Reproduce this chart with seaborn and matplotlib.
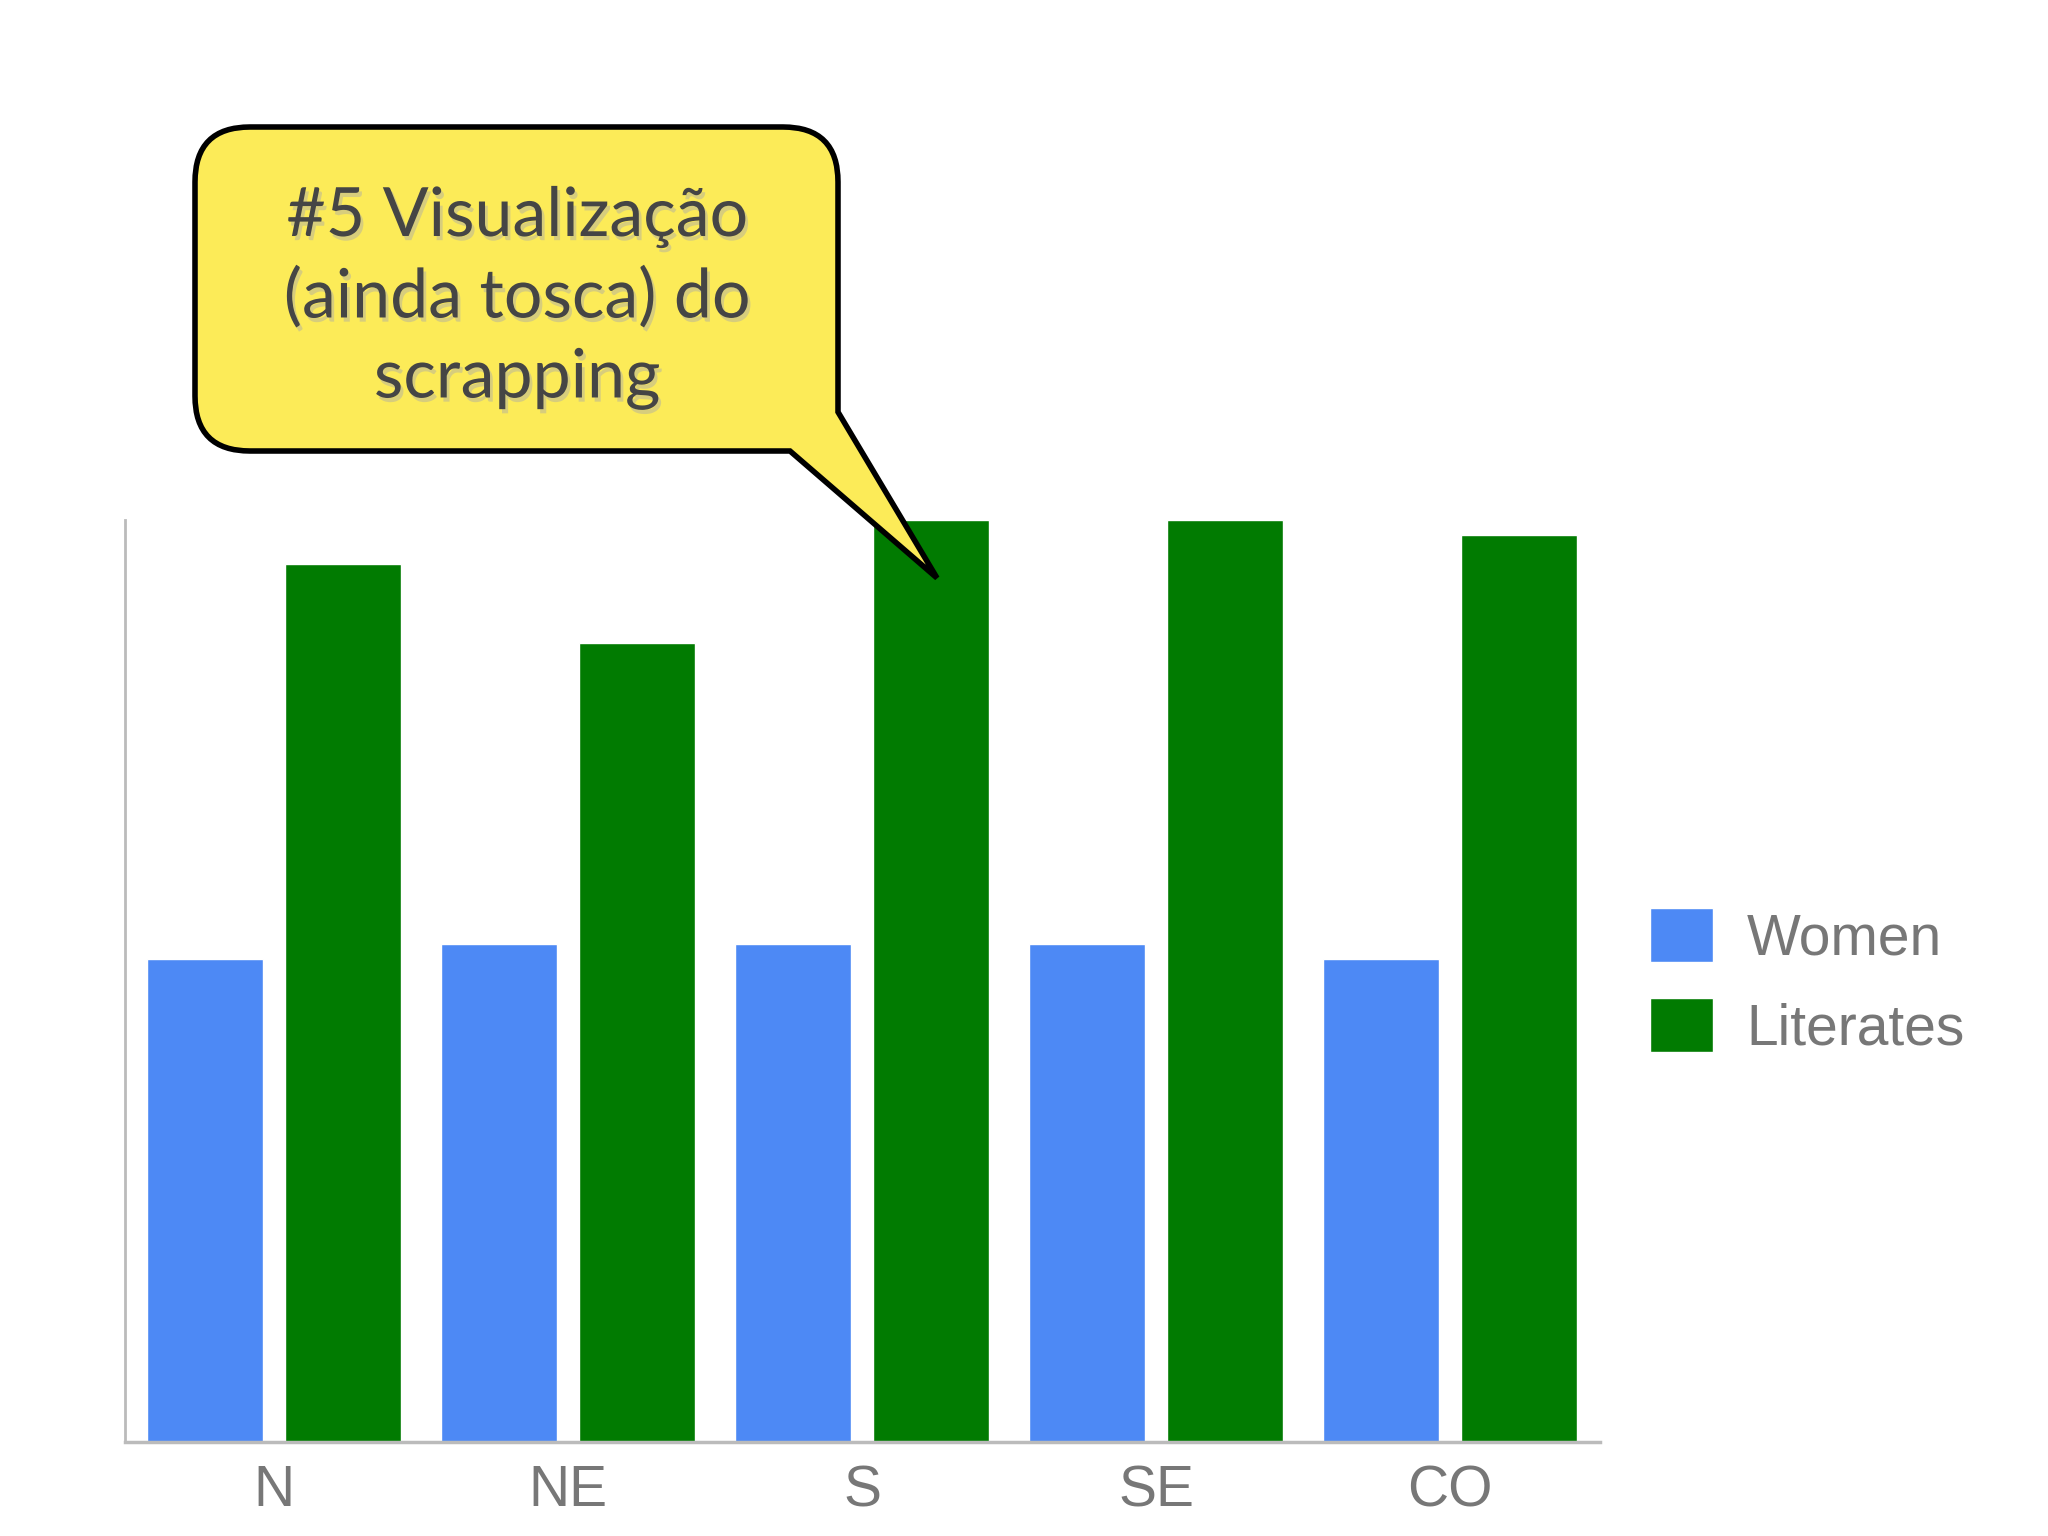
import pandas as pd
import matplotlib
matplotlib.use("Agg")
import matplotlib.pyplot as plt
import matplotlib.patheffects as pe
from matplotlib.path import Path
from matplotlib.patches import PathPatch
from matplotlib.transforms import IdentityTransform
import seaborn as sns

# data (share of population, roughly)
regions = ['N', 'NE', 'S', 'SE', 'CO']
women = [0.49, 0.505, 0.505, 0.505, 0.49]
literates = [0.89, 0.81, 0.935, 0.935, 0.92]
series = ['Women', 'Literates']
colors = {'Women': '#4D89F5', 'Literates': '#017B01'}
callout_text = "#5 Visualização\n(ainda tosca) do\nscrapping"

df = pd.DataFrame({
    'region': regions * 2,
    'series': ['Women'] * len(regions) + ['Literates'] * len(regions),
    'value': women + literates,
})

sns.set_style('white')
W, H = 2048, 1536
fig = plt.figure(figsize=(W / 100, H / 100), dpi=100)
ax = fig.add_axes([125 / W, 1 - 1442 / H, 1475 / W, (1442 - 520) / H])

sns.barplot(data=df, x='region', y='value', hue='series', hue_order=series,
            palette=colors, saturation=1, width=0.94, gap=0.158, ax=ax)

ax.set_xlim(-0.507, 4.51)
ax.set_ylim(0, max(literates))
ax.set_xlabel('')
ax.set_ylabel('')
ax.set_yticks([])
for s in ['top', 'right']:
    ax.spines[s].set_visible(False)
ax.spines['left'].set_color('#bbbbbb')
ax.spines['left'].set_linewidth(2)
ax.spines['bottom'].set_color('#bbbbbb')
ax.spines['bottom'].set_linewidth(2.5)
ax.tick_params(axis='x', length=10, width=1, color='#cccccc', pad=6,
               labelsize=41, labelcolor='#777777')
for lbl in ax.get_xticklabels():
    lbl.set_family('Liberation Sans')

handles, labels = ax.get_legend_handles_labels()
fs = 41
ax.legend(handles, labels, loc='center left',
          bbox_to_anchor=(1650 / W, 1 - 982 / H), bbox_transform=fig.transFigure,
          frameon=False, labelcolor='#777777',
          prop={'family': 'Liberation Sans', 'size': fs},
          handlelength=1.1, handleheight=1.1, handletextpad=0.6,
          labelspacing=0.55, borderpad=0, borderaxespad=0)

# speech-bubble callout (pixel coordinates, y from top)
L, R, T, B, r = 195, 838, 127, 451, 55
pts = [(790, B), (937, 578), (R, 412), (R, T + r), (R, T), (R - r, T),
       (L + r, T), (L, T), (L, T + r), (L, B - r), (L, B), (L + r, B),
       (790, B)]
codes = [Path.MOVETO, Path.LINETO, Path.LINETO, Path.LINETO,
         Path.CURVE3, Path.CURVE3, Path.LINETO, Path.CURVE3, Path.CURVE3,
         Path.LINETO, Path.CURVE3, Path.CURVE3, Path.CLOSEPOLY]
path = Path([(x, H - y) for x, y in pts], codes)
bubble = PathPatch(path, facecolor='#FCEB58', edgecolor='black', lw=4,
                   joinstyle='miter', transform=IdentityTransform())
fig.add_artist(bubble)

fig.text(517 / W, 1 - 298 / H, callout_text, ha='center', va='center',
         fontsize=49, family='Lato', color='#454545', linespacing=1.36,
         path_effects=[pe.withSimplePatchShadow(offset=(2, -3),
                                                shadow_rgbFace='#aaaaaa',
                                                alpha=0.45)])

plt.savefig('out.png', dpi=100)
